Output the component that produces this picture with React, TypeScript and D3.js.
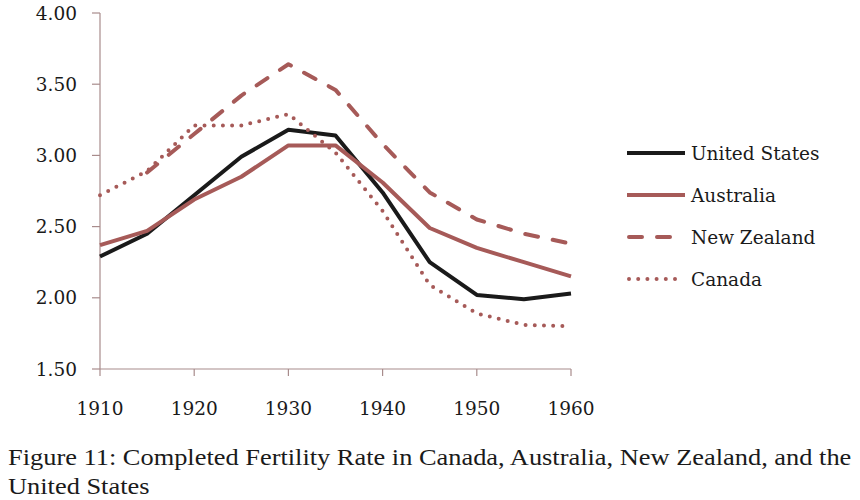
import React, { useEffect, useRef } from "react";
import * as d3 from "d3";

const years = [1910, 1915, 1920, 1925, 1930, 1935, 1940, 1945, 1950, 1955, 1960];
const unitedStates = [2.29, 2.45, 2.72, 2.99, 3.18, 3.14, 2.74, 2.25, 2.02, 1.99, 2.03];
const australia = [2.37, 2.47, 2.69, 2.85, 3.07, 3.07, 2.81, 2.49, 2.35, 2.25, 2.15];
const newZealand = [null, 2.88, 3.15, 3.42, 3.64, 3.46, 3.08, 2.74, 2.55, 2.45, 2.38];
const canada = [2.72, 2.89, 3.21, 3.21, 3.29, 3.02, 2.61, 2.09, 1.89, 1.81, 1.80];
const yTicks = [1.5, 2.0, 2.5, 3.0, 3.5, 4.0];
const xTicks = [1910, 1920, 1930, 1940, 1950, 1960];

const rose = "#a65a58";
const labelFont = "'DejaVu Serif', serif";
const captionFont = "'Liberation Serif', 'DejaVu Serif', serif";

const series = [
  { name: "United States", values: unitedStates, color: "#1a1a1a", dash: null, cap: "butt", legLen: 58 },
  { name: "Australia", values: australia, color: rose, dash: null, cap: "butt", legLen: 58 },
  { name: "New Zealand", values: newZealand, color: rose, dash: "13 15", cap: "round", legLen: 44 },
  { name: "Canada", values: canada, color: rose, dash: "0 9.2", cap: "round", legLen: 56 },
];

export default function App() {
  const svgRef = useRef(null);
  const width = 860;
  const height = 500;

  useEffect(() => {
    if (!svgRef.current) return;
    const svg = d3.select(svgRef.current);
    svg.selectAll("*").remove();

    const x = d3.scaleLinear().domain([1910, 1960]).range([100, 571]);
    const y = d3.scaleLinear().domain([1.5, 4.0]).range([369, 13]);
    const axisColor = "#a88c8c";

    // y axis
    svg.append("line").attr("x1", 100).attr("x2", 100).attr("y1", y(4)).attr("y2", y(1.5))
      .attr("stroke", axisColor).attr("stroke-width", 1.2);
    svg.selectAll("line.ytick").data(yTicks).join("line").attr("class", "ytick")
      .attr("x1", 92).attr("x2", 100).attr("y1", (d) => y(d)).attr("y2", (d) => y(d))
      .attr("stroke", axisColor).attr("stroke-width", 1.2);
    svg.selectAll("text.ylab").data(yTicks).join("text").attr("class", "ylab")
      .attr("x", 77).attr("y", (d) => y(d)).attr("dy", "0.36em")
      .attr("text-anchor", "end").attr("font-family", labelFont).attr("font-size", 18.5)
      .attr("fill", "#1a1a1a").text((d) => d.toFixed(2));

    // x axis
    svg.append("line").attr("x1", x(1910)).attr("x2", x(1960)).attr("y1", y(1.5)).attr("y2", y(1.5))
      .attr("stroke", axisColor).attr("stroke-width", 1.2);
    svg.selectAll("line.xtick").data(xTicks).join("line").attr("class", "xtick")
      .attr("x1", (d) => x(d)).attr("x2", (d) => x(d)).attr("y1", 369).attr("y2", 376)
      .attr("stroke", axisColor).attr("stroke-width", 1.2);
    svg.selectAll("text.xlab").data(xTicks).join("text").attr("class", "xlab")
      .attr("x", (d) => x(d)).attr("y", 408).attr("dy", "0.36em")
      .attr("text-anchor", "middle").attr("font-family", labelFont).attr("font-size", 18.5)
      .attr("fill", "#1a1a1a").text((d) => String(d));

    // lines
    const line = d3.line<any>()
      .defined((d) => d.v != null)
      .x((d) => x(d.year))
      .y((d) => y(d.v));

    series.forEach((s) => {
      const pts = years.map((year, i) => ({ year, v: s.values[i] }));
      svg.append("path").datum(pts)
        .attr("d", line)
        .attr("fill", "none")
        .attr("stroke", s.color)
        .attr("stroke-width", 4)
        .attr("stroke-linejoin", "round")
        .attr("stroke-linecap", s.cap)
        .attr("stroke-dasharray", s.dash);
    });

    // legend
    const leg = svg.selectAll("g.leg").data(series).join("g").attr("class", "leg")
      .attr("transform", (d, i) => `translate(627, ${153 + i * 42})`);
    leg.append("line").attr("x1", (d) => (d.cap === "round" ? 2 : 0)).attr("x2", (d) => d.legLen)
      .attr("y1", 0).attr("y2", 0)
      .attr("stroke", (d) => d.color).attr("stroke-width", 4)
      .attr("stroke-linecap", (d) => d.cap)
      .attr("stroke-dasharray", (d) => d.dash);
    leg.append("text").attr("x", 64).attr("y", 0).attr("dy", "0.36em")
      .attr("font-family", labelFont).attr("font-size", 18.5).attr("fill", "#1a1a1a")
      .text((d) => d.name);

    // caption
    const cap = svg.append("g").attr("transform", "translate(8,0) scale(1.1,1)");
    cap.append("text").attr("x", 0).attr("y", 465)
      .attr("font-family", captionFont).attr("font-size", 24).attr("fill", "#1a1a1a")
      .text("Figure 11: Completed Fertility Rate in Canada, Australia, New Zealand, and the");
    cap.append("text").attr("x", 0).attr("y", 494)
      .attr("font-family", captionFont).attr("font-size", 24).attr("fill", "#1a1a1a")
      .text("United States");
  }, []);

  return (
    <svg
      ref={svgRef}
      width={width}
      height={height}
      style={{ position: "absolute", left: 0, top: 0, background: "#fff" }}
    />
  );
}
